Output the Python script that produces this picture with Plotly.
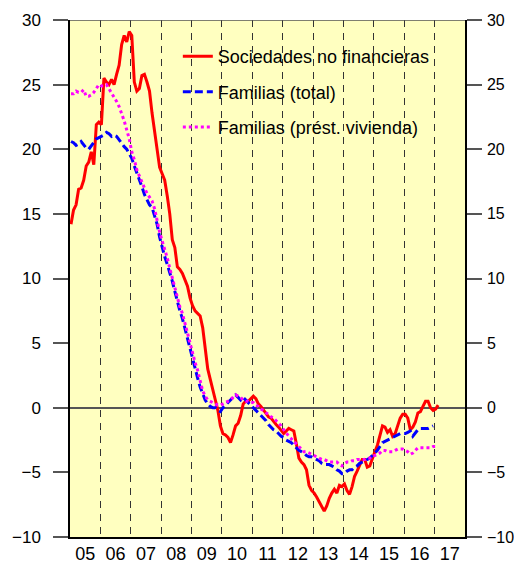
import plotly.graph_objects as go

# Monthly series, starting January 2005
start_year = 2005
sociedades = [14.2, 15.3, 15.7, 16.9, 17.0, 17.6, 18.7, 19.0, 19.8, 18.8, 21.9, 22.1,
              21.9, 25.5, 25.2, 25.0, 25.4, 25.0, 25.8, 26.5, 28.1, 28.8, 28.3, 29.1,
              28.8, 25.2, 24.5, 24.7, 25.7, 25.8, 25.2, 24.5, 22.8, 21.4, 20.1, 18.6,
              18.1, 17.6, 16.4, 15.0, 13.0, 12.4, 10.9, 10.7, 10.4, 9.9, 9.4, 8.5,
              7.9, 7.5, 7.3, 7.1, 6.2, 4.6, 3.0, 2.2, 1.5, 0.6, -0.2, -1.4,
              -2.0, -2.1, -2.3, -2.7, -2.1, -1.4, -1.2, -0.6, 0.3, 0.5, 0.5, 0.7,
              0.9, 0.7, 0.3, 0.1, -0.2, -0.5, -0.7, -0.8, -1.1, -1.3, -1.5, -1.8,
              -2.0, -1.8, -1.6, -1.7, -1.8, -2.8, -3.9, -4.2, -4.4, -4.8, -6.0, -6.4,
              -6.6, -6.9, -7.3, -7.7, -8.0, -7.6, -7.0, -6.6, -6.3, -6.6, -6.0, -6.1,
              -5.9, -6.4, -6.7, -6.1, -5.3, -4.9, -4.5, -4.0, -4.0, -4.6, -4.5, -3.9,
              -3.4, -2.9, -2.1, -1.4, -1.5, -1.9, -1.7, -2.2, -2.0, -1.3, -0.8, -0.5,
              -0.5, -0.8, -1.7, -1.5, -1.1, -0.4, -0.3, 0.1, 0.5, 0.5, 0.0, -0.2,
              -0.1, 0.2]

familias_total = [20.6, 20.5, 20.3, 20.4, 20.6, 20.3, 20.1, 20.0, 20.3, 20.5, 20.8, 20.9,
                  21.0, 21.1, 21.3, 21.2, 21.0, 21.1, 21.0, 20.7, 20.4, 20.2, 20.0, 19.7,
                  19.3, 18.7, 18.2, 17.6, 17.1, 16.5, 16.1, 15.7, 15.5, 14.9, 14.2, 13.2,
                  12.4, 11.7, 11.1, 10.5, 9.8, 9.0, 8.2, 7.5, 6.9, 6.1, 5.3, 4.5,
                  3.8, 3.0, 2.3, 1.6, 1.1, 0.6, 0.3, 0.1, 0.0, 0.0, -0.2, -0.3,
                  0.0, 0.2, 0.4, 0.6, 0.8, 1.0, 0.8, 0.6, 0.8, 0.6, 0.4, 0.2,
                  0.0, -0.2, -0.4, -0.6, -0.8, -1.0, -1.3, -1.5, -1.7, -1.8, -2.0, -2.2,
                  -2.3, -2.5, -2.6, -2.7, -2.9, -3.1, -3.3, -3.4, -3.5, -3.7, -3.8, -3.8,
                  -3.9, -4.0, -4.1, -4.3, -4.4, -4.4, -4.4, -4.5, -4.6, -4.8, -4.9, -5.1,
                  -5.1, -4.9, -4.8, -4.8, -4.6, -4.5, -4.3, -4.2, -4.1, -4.0, -3.9, -3.7,
                  -3.5, -3.3, -3.0, -2.7, -2.6, -2.5, -2.4, -2.3, -2.2, -2.1, -2.0, -2.0,
                  -2.0, -1.9, -1.8, -2.2, -1.9, -1.7, -1.6, -1.6, -1.6, -1.6, -1.5, -1.4]

familias_vivienda = [24.3, 24.3, 24.5, 24.4, 24.4, 24.6, 24.1, 24.1, 24.2, 24.4, 24.7, 25.0,
                     24.9, 24.9, 25.0, 24.7, 24.4, 24.1, 23.7, 23.3, 22.8, 22.2, 21.5, 20.8,
                     19.8, 19.2, 18.4, 17.9, 17.4, 17.0, 16.6, 16.3, 16.0, 15.4, 14.4, 13.6,
                     12.9, 12.3, 11.6, 10.8, 10.0, 9.2, 8.4, 7.8, 7.3, 6.5, 5.8, 5.0,
                     4.3, 3.5, 2.9, 2.2, 1.3, 0.9, 0.6, 0.5, 0.4, 0.3, 0.2, 0.2,
                     0.3, 0.4, 0.5, 0.6, 0.8, 1.0, 0.9, 0.8, 0.6, 0.5, 0.5, 0.4,
                     0.4, 0.2, 0.1, -0.1, -0.2, -0.4, -0.5, -0.7, -0.8, -1.0, -1.2, -1.4,
                     -1.7, -2.0, -2.2, -2.4, -2.6, -2.8, -3.0, -3.2, -3.4, -3.4, -3.5, -3.6,
                     -3.7, -3.8, -3.9, -4.0, -4.0, -4.1, -4.2, -4.2, -4.2, -4.2, -4.4, -4.5,
                     -4.3, -4.2, -4.2, -4.1, -4.1, -4.0, -4.0, -4.0, -4.0, -3.9, -3.9, -3.7,
                     -3.7, -3.6, -3.5, -3.3, -3.3, -3.4, -3.4, -3.4, -3.3, -3.2, -3.2, -3.2,
                     -3.3, -3.4, -3.6, -3.5, -3.3, -3.1, -3.1, -3.1, -3.1, -3.1, -3.1, -3.0,
                     -3.0]

year_labels = ["05", "06", "07", "08", "09", "10", "11", "12", "13", "14", "15", "16", "17"]
y_ticks = [-10, -5, 0, 5, 10, 15, 20, 25, 30]
legend_names = ["Sociedades no financieras", "Familias (total)", "Familias (prést. vivienda)"]


def month_positions(n):
    return [start_year + (i + 0.4) / 12 for i in range(n)]


FONT = "Liberation Sans, Arial, sans-serif"

fig = go.Figure()
fig.add_trace(go.Scatter(x=month_positions(len(sociedades)), y=sociedades, mode="lines",
                         name=legend_names[0], legendgroup="a",
                         line=dict(color="#FF0000", width=3)))
fig.add_trace(go.Scatter(x=month_positions(len(familias_total)), y=familias_total, mode="lines",
                         name=legend_names[1], legendgroup="b",
                         line=dict(color="#0000FF", width=3, dash="8px,4px")))
fig.add_trace(go.Scatter(x=month_positions(len(familias_vivienda)), y=familias_vivienda, mode="lines",
                         name=legend_names[2], legendgroup="c",
                         line=dict(color="#FF00FF", width=3, dash="3px,3px")))
# invisible trace to anchor the right-hand axis
fig.add_trace(go.Scatter(x=[None], y=[None], yaxis="y2", showlegend=False, hoverinfo="skip"))

n_years = len(year_labels)
fig.update_layout(
    width=514, height=562,
    margin=dict(l=62, r=57, t=12, b=33, autoexpand=False),
    paper_bgcolor="white",
    plot_bgcolor="#FFFFC0",
    font=dict(family=FONT, size=17, color="black"),
    showlegend=True,
    legend=dict(x=0.273, y=0.965, xanchor="left", yanchor="top",
                bgcolor="rgba(0,0,0,0)", font=dict(size=18, family=FONT),
                tracegroupgap=9, itemwidth=30),
    xaxis=dict(
        range=[start_year, start_year + n_years],
        tickvals=[start_year + k + 0.5 for k in range(n_years)],
        ticktext=year_labels,
        ticks="", showgrid=False, zeroline=False, automargin=False,
        showline=True, linecolor="black", linewidth=1.5,
        tickfont=dict(size=18),
        minor=dict(tickvals=[start_year + k for k in range(1, n_years)],
                   showgrid=True, gridcolor="#333333", griddash="7px,6px",
                   gridwidth=1, ticks=""),
    ),
    yaxis=dict(
        range=[-10, 30], tickvals=y_ticks, automargin=False,
        ticks="outside", ticklen=15, tickcolor="#555555", tickwidth=1.5,
        showgrid=False, zeroline=True, zerolinecolor="#555555", zerolinewidth=1.5,
        showline=True, linecolor="black", linewidth=1.5,
        ticklabelstandoff=9,
    ),
    yaxis2=dict(
        range=[-10, 30], tickvals=y_ticks, overlaying="y", side="right", automargin=False,
        ticks="outside", ticklen=15, tickcolor="#555555", tickwidth=1.5,
        showgrid=False, zeroline=False,
        showline=True, linecolor="black", linewidth=1.5,
        ticklabelstandoff=2, tickfont=dict(size=16),
    ),
    shapes=[dict(type="line", xref="paper", yref="y", x0=0, x1=1, y0=30, y1=30,
                 line=dict(color="#555555", width=1.5))],
)

fig.write_html("out.html")
